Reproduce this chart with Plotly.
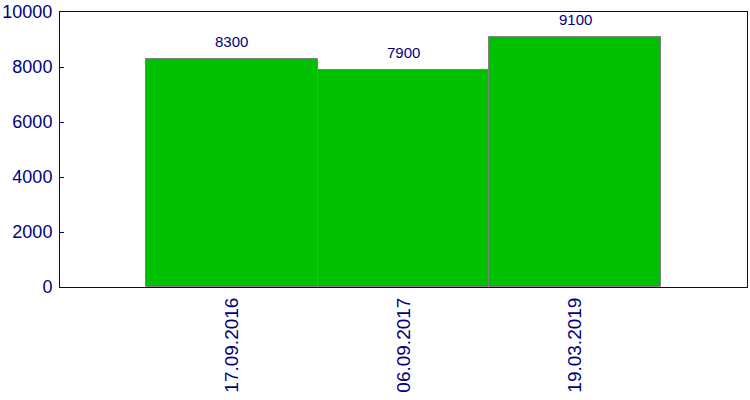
import plotly.graph_objects as go

dates = ["17.09.2016", "06.09.2017", "19.03.2019"]
values = [8300, 7900, 9100]
y_ticks = [0, 2000, 4000, 6000, 8000, 10000]
y_tick_text = ["0", "2000", "4000", "6000", "8000", "10000"]

navy = "#000080"
font_family = "Liberation Sans, Arial"

fig = go.Figure(go.Bar(
    x=dates, y=values,
    marker=dict(color="#00C000", line=dict(color="#808080", width=1)),
    cliponaxis=False,
))

for d, v in zip(dates, values):
    fig.add_annotation(x=d, y=v, text=str(v), showarrow=False,
                       yanchor="bottom", yshift=7,
                       font=dict(color=navy, size=15, family=font_family))

fig.update_layout(
    width=750, height=400,
    margin=dict(l=60, r=2, t=10, b=113),
    paper_bgcolor="white", plot_bgcolor="white",
    bargap=0, showlegend=False,
    font=dict(family=font_family, color=navy, size=18),
    xaxis=dict(type="category", range=[-1, 3], tickangle=-90,
               showline=True, linecolor=navy, linewidth=1, mirror=True,
               ticks="", showgrid=False, ticklabelstandoff=2,
               tickfont=dict(size=19, color=navy)),
    yaxis=dict(range=[0, 10000], tickvals=y_ticks, ticktext=y_tick_text,
               showline=True, linecolor=navy, linewidth=1, mirror=True,
               ticks="inside", ticklen=4, tickcolor=navy, showgrid=False,
               zeroline=False, ticklabelstandoff=3,
               tickfont=dict(size=18, color=navy)),
)

fig.write_html("out.html")
